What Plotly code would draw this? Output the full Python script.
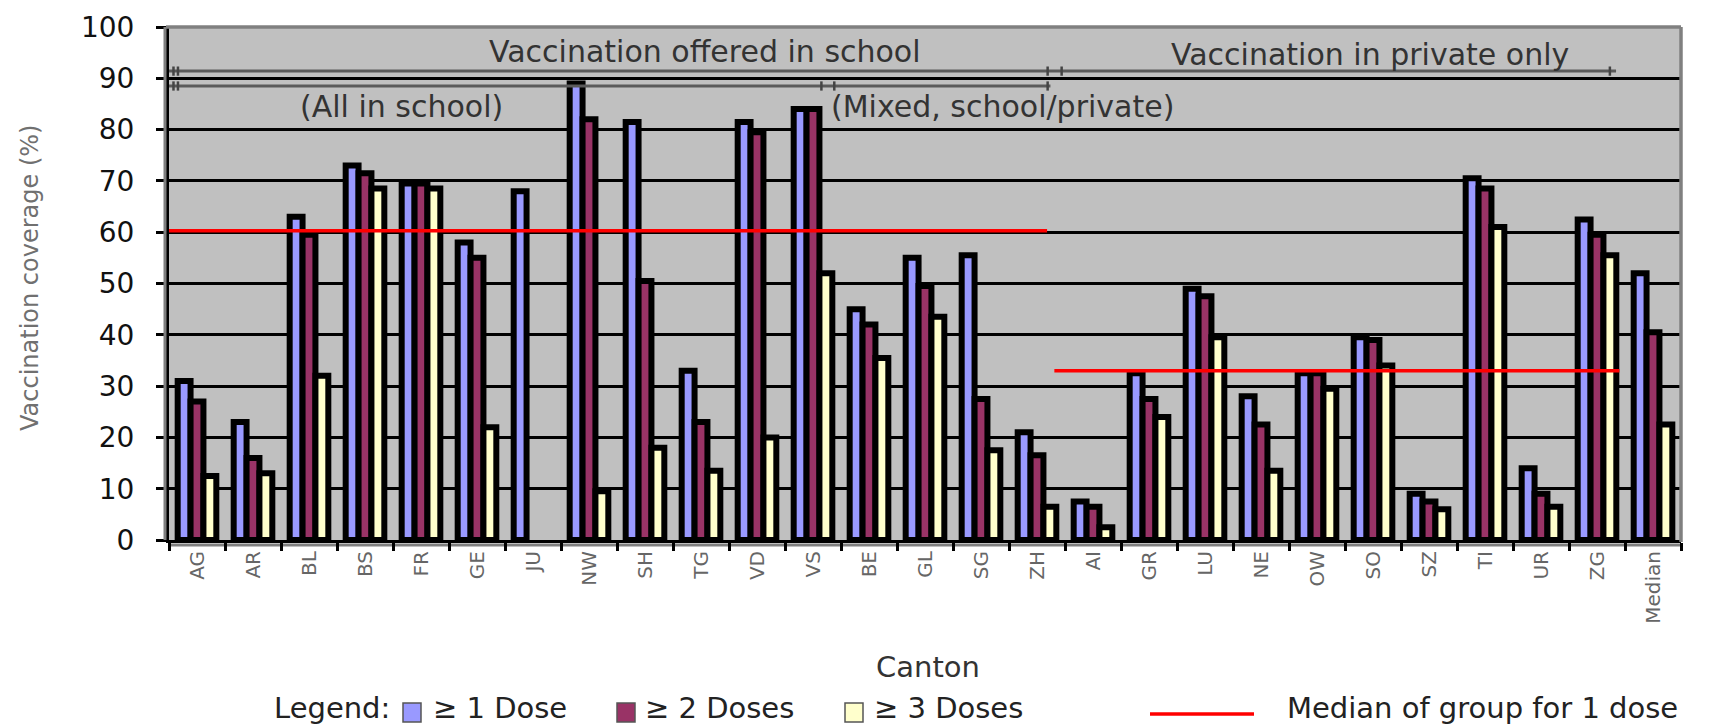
import plotly.graph_objects as go

# ---------------- data ----------------
categories = ["AG", "AR", "BL", "BS", "FR", "GE", "JU", "NW", "SH", "TG", "VD", "VS",
              "BE", "GL", "SG", "ZH", "AI", "GR", "LU", "NE", "OW", "SO", "SZ", "TI",
              "UR", "ZG", "Median"]
dose1 = [31, 23, 63, 73, 69.5, 58, 68, 89, 81.5, 33, 81.5, 84,
         45, 55, 55.5, 21, 7.5, 32.5, 49, 28, 32.5, 39.5, 9, 70.5,
         14, 62.5, 52]
dose2 = [27, 16, 59.5, 71.5, 69.5, 55, None, 82, 50.5, 23, 79.5, 84,
         42, 49.5, 27.5, 16.5, 6.5, 27.5, 47.5, 22.5, 32.5, 39, 7.5, 68.5,
         9, 59.5, 40.5]
dose3 = [12.5, 13, 32, 68.5, 68.5, 22, None, 9.5, 18, 13.5, 20, 52,
         35.5, 43.5, 17.5, 6.5, 2.5, 24, 39.5, 13.5, 29.5, 34, 6, 61,
         6.5, 55.5, 22.5]
series_names = ["\u2265 1 Dose", "\u2265 2 Doses", "\u2265 3 Doses"]
series_colors = ["#9999ff", "#993366", "#ffffcc"]

median_school = 60.3
median_private = 33.0
school_span = (-0.5, 15.18)    # category-index span of the school group
private_span = (15.31, 25.40)  # category-index span of the private group

header_labels = ["Vaccination offered in school", "Vaccination in private only",
                 "(All in school)", "(Mixed, school/private)"]
legend_label = "Median of group for 1 dose"

FONT = "DejaVu Sans"
W, H = 1710, 728
ML, MR, MT, MB = 169, 29, 27, 188
PW = W - ML - MR
PH = H - MT - MB


def px(x):
    return (x - ML) / PW


def py(y):
    return (H - MB - y) / PH


fig = go.Figure()
for name, vals, col in zip(series_names, [dose1, dose2, dose3], series_colors):
    fig.add_trace(go.Bar(
        x=categories, y=vals, name=name,
        marker=dict(color=col, line=dict(color="black", width=6)),
        showlegend=False,
    ))

fig.update_layout(
    width=W, height=H, autosize=False,
    margin=dict(l=ML, r=MR, t=MT, b=MB, pad=0),
    paper_bgcolor="white", plot_bgcolor="#c0c0c0",
    barmode="group", bargap=0.31, bargroupgap=0,
    showlegend=False,
    font=dict(family=FONT),
)
fig.update_xaxes(
    type="category", tickson="boundaries", ticks="outside", ticklen=8,
    tickwidth=3, tickcolor="black", showline=True, linecolor="black",
    linewidth=3, showgrid=False, tickangle=-90,
    tickfont=dict(family=FONT, size=20, color="#666666"),
    range=[-0.5, 26.5],
)
fig.update_yaxes(
    range=[0, 100], dtick=10, tick0=0, ticks="outside", ticklen=10,
    tickwidth=3, tickcolor="black", showline=True, linecolor="black",
    linewidth=3, showgrid=True, gridcolor="black", gridwidth=3,
    zeroline=False, tickfont=dict(family=FONT, size=28, color="#111111"),
    ticklabelstandoff=16,
)

# plot-area border (gray)
fig.add_shape(type="line", xref="paper", yref="paper", x0=-0.002, x1=1, y0=1, y1=1,
              line=dict(color="#808080", width=3.5), layer="above")
fig.add_shape(type="line", xref="paper", yref="paper", x0=1, x1=1, y0=-0.004, y1=1,
              line=dict(color="#808080", width=3.5), layer="above")
fig.add_shape(type="line", xref="paper", yref="paper", x0=-4 / PW, x1=-4 / PW, y0=0, y1=1,
              line=dict(color="#808080", width=3), layer="above")
fig.add_shape(type="line", xref="paper", yref="paper", x0=0, x1=1, y0=-5 / PH, y1=-5 / PH,
              line=dict(color="#808080", width=3), layer="below")

# median lines
fig.add_shape(type="line", xref="x", yref="y", x0=school_span[0], x1=school_span[1],
              y0=median_school, y1=median_school, line=dict(color="#ff0000", width=3.5))
fig.add_shape(type="line", xref="x", yref="y", x0=private_span[0], x1=private_span[1],
              y0=median_private, y1=median_private, line=dict(color="#ff0000", width=3.5))

# group bracket lines
GL = "#5a5a5a"
fig.add_shape(type="line", xref="x", yref="y", x0=-0.5, x1=25.34, y0=91.4, y1=91.4,
              line=dict(color=GL, width=3))
fig.add_shape(type="line", xref="x", yref="y", x0=-0.5, x1=15.24, y0=88.5, y1=88.5,
              line=dict(color=GL, width=3))
for xm, ym in [(-0.42, 91.4), (-0.34, 91.4), (-0.42, 88.5), (-0.34, 88.5),
               (11.15, 88.5), (11.38, 88.5), (15.19, 91.4), (15.44, 91.4),
               (15.19, 88.5), (25.23, 91.4)]:
    fig.add_shape(type="line", xref="x", yref="y", x0=xm, x1=xm, y0=ym - 0.9, y1=ym + 0.9,
                  line=dict(color="#444444", width=2.5))

# header texts
for txt, xc, yc in [(header_labels[0], 9.08, 95.2), (header_labels[1], 20.95, 94.6),
                    (header_labels[2], 3.65, 84.5), (header_labels[3], 14.38, 84.5)]:
    fig.add_annotation(text=txt, x=xc, y=yc, xref="x", yref="y", showarrow=False,
                       xanchor="center", yanchor="middle",
                       font=dict(family=FONT, size=30, color="#333333"))

# axis titles
fig.add_annotation(text="Vaccination coverage (%)", x=px(30), y=py(278), xref="paper",
                   yref="paper", showarrow=False, textangle=-90, xanchor="center",
                   yanchor="middle", font=dict(family=FONT, size=24, color="#707070"))
fig.add_annotation(text="Canton", x=px(928), y=py(667), xref="paper", yref="paper",
                   showarrow=False, xanchor="center", yanchor="middle",
                   font=dict(family=FONT, size=29, color="#333333"))

# legend (drawn manually)
LY = 708
LF = 29
fig.add_annotation(text="Legend:", x=px(272), y=py(LY), xref="paper", yref="paper",
                   showarrow=False, xanchor="left", yanchor="middle",
                   font=dict(family=FONT, size=LF, color="#222222"))
for (sx, tx), name, col in zip([(403, 431), (617, 643), (845, 872)], series_names, series_colors):
    fig.add_shape(type="rect", xref="paper", yref="paper", x0=px(sx), x1=px(sx + 18),
                  y0=py(722), y1=py(703), fillcolor=col, line=dict(color="#555555", width=1.5))
    fig.add_annotation(text=name, x=px(tx), y=py(LY), xref="paper", yref="paper",
                       showarrow=False, xanchor="left", yanchor="middle",
                       font=dict(family=FONT, size=LF, color="#222222"))
fig.add_shape(type="line", xref="paper", yref="paper", x0=px(1150), x1=px(1254),
              y0=py(714), y1=py(714), line=dict(color="#ff0000", width=3.5))
fig.add_annotation(text=legend_label, x=px(1285), y=py(LY), xref="paper", yref="paper",
                   showarrow=False, xanchor="left", yanchor="middle",
                   font=dict(family=FONT, size=LF, color="#222222"))

fig.write_html("out.html", config={"displayModeBar": False},
               post_script="document.body.style.margin='0';")
